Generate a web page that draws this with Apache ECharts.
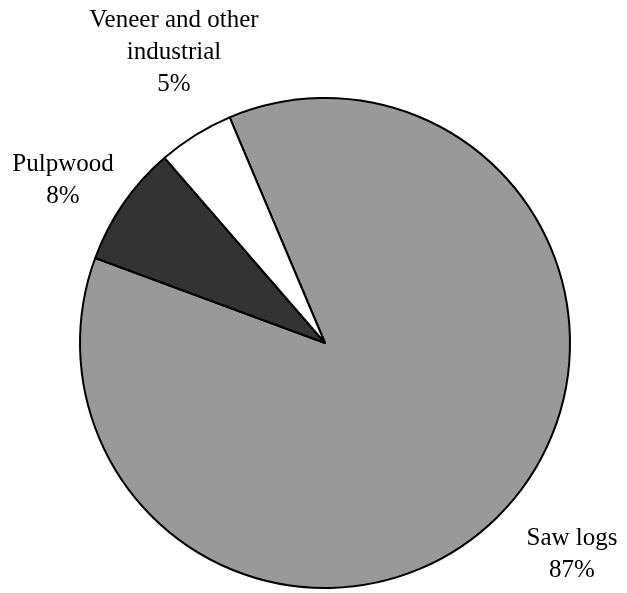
<!DOCTYPE html>
<html><head><meta charset="utf-8">
<script src="https://cdn.jsdelivr.net/npm/echarts@6/dist/echarts.min.js"></script>
<style>html,body{margin:0;padding:0;background:#fff}#c{width:627px;height:593px}</style>
</head><body><div id="c"></div>
<script>
const categories = ["Saw logs", "Pulpwood", "Veneer and other\nindustrial"];
const values = [87, 8, 5];
const colors = ["#999999", "#333333", "#ffffff"];
const labelPos = [[572, 554], [63, 180], [174, 52]];

const chart = echarts.init(document.getElementById('c'), null, {renderer: 'canvas'});
chart.setOption({
  animation: false,
  series: [{
    type: 'pie',
    center: [325, 343],
    radius: 245,
    startAngle: 112.9,
    clockwise: true,
    avoidLabelOverlap: false,
    data: categories.map((n, i) => ({name: n, value: values[i], itemStyle: {color: colors[i]}})),
    itemStyle: {borderColor: '#000', borderWidth: 2},
    label: {
      show: true, position: 'outside',
      formatter: p => p.name + '\n' + p.value + '%',
      fontFamily: 'Liberation Serif', fontSize: 25, lineHeight: 32,
      color: '#000', align: 'center'
    },
    labelLine: {show: false},
    emphasis: {disabled: true}
  }]
});
chart.setOption({series: [{labelLayout: p => ({x: labelPos[p.dataIndex][0], y: labelPos[p.dataIndex][1], align: 'center', verticalAlign: 'middle'})}]});
</script></body></html>
